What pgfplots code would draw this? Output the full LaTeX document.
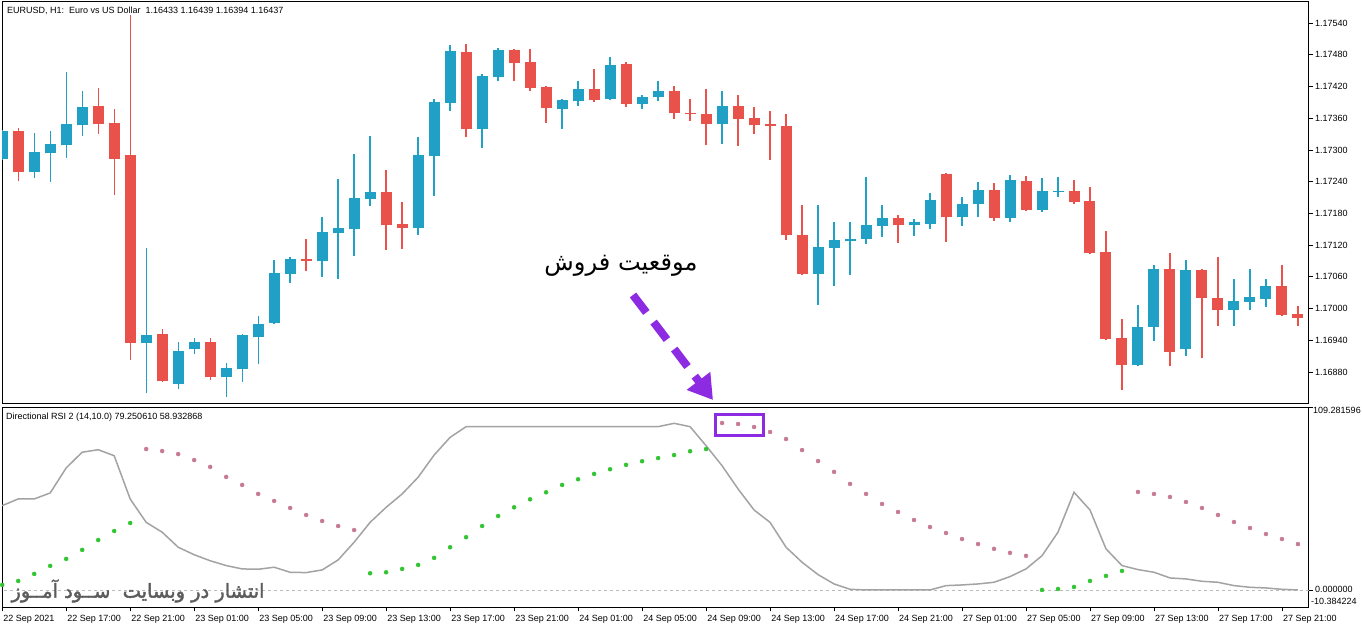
\documentclass[border=0pt]{standalone}
\usepackage{pgfplots}
\pgfplotsset{compat=1.18}
\usepackage{pgfplotstable}
\usepackage{graphicx}
\usepackage{fontspec}
\setmainfont{Liberation Sans}
\newfontfamily\arabicfont[Script=Arabic]{DejaVu Sans}
\newfontfamily\arabicbold[Script=Arabic,FakeBold=2]{DejaVu Sans}
\TeXXeTstate=1
\usetikzlibrary{arrows.meta}

\definecolor{bull}{RGB}{32,160,196}
\definecolor{bear}{RGB}{232,82,74}
\definecolor{rsiline}{RGB}{163,163,163}
\definecolor{selldot}{RGB}{198,120,150}
\definecolor{buydot}{RGB}{48,196,48}
\definecolor{hilite}{RGB}{141,43,226}
\newcommand\mt{\fontsize{9bp}{10.8bp}\selectfont}

% candles drawn as error bars only, no marks
\pgfplotsset{candle/.style 2 args={forget plot, only marks, mark=*, mark size=0pt,
    mark options={draw=none, fill=none},
    error bars/.cd, y dir=plus, y explicit, error mark=none,
    error bar style={draw=#1, line width=#2}}}

% EURUSD H1 candles: bar index, open, high, low, close
\pgfplotstableread{
i o h l c
0 1.17283 1.17338 1.17281 1.17336
2 1.17258 1.17332 1.17247 1.17296
3 1.17294 1.17336 1.17239 1.17311
4 1.17309 1.17447 1.17285 1.17349
5 1.17347 1.17411 1.17326 1.17381
9 1.16935 1.17114 1.16840 1.16950
11 1.16857 1.16937 1.16848 1.16920
12 1.16923 1.16944 1.16914 1.16937
14 1.16871 1.16897 1.16833 1.16888
15 1.16886 1.16952 1.16861 1.16950
16 1.16946 1.16986 1.16895 1.16971
17 1.16973 1.17092 1.16971 1.17067
18 1.17065 1.17097 1.17048 1.17094
20 1.17090 1.17173 1.17060 1.17145
21 1.17143 1.17245 1.17056 1.17152
22 1.17150 1.17292 1.17099 1.17209
23 1.17207 1.17326 1.17194 1.17220
26 1.17152 1.17324 1.17139 1.17290
27 1.17288 1.17396 1.17213 1.17391
28 1.17389 1.17498 1.17374 1.17487
30 1.17340 1.17444 1.17304 1.17440
31 1.17438 1.17493 1.17430 1.17489
35 1.17377 1.17396 1.17340 1.17394
36 1.17392 1.17430 1.17383 1.17415
38 1.17396 1.17476 1.17394 1.17461
40 1.17387 1.17404 1.17377 1.17400
41 1.17400 1.17430 1.17392 1.17411
45 1.17349 1.17411 1.17311 1.17383
51 1.17065 1.17196 1.17007 1.17116
52 1.17114 1.17164 1.17043 1.17130
53 1.17128 1.17164 1.17063 1.17132
54 1.17132 1.17249 1.17122 1.17158
55 1.17156 1.17196 1.17135 1.17171
57 1.17158 1.17169 1.17137 1.17164
58 1.17160 1.17219 1.17150 1.17205
60 1.17173 1.17211 1.17156 1.17198
61 1.17198 1.17239 1.17173 1.17224
63 1.17171 1.17253 1.17164 1.17243
65 1.17186 1.17247 1.17183 1.17222
66 1.17220 1.17249 1.17211 1.17222
71 1.16893 1.17007 1.16891 1.16965
72 1.16965 1.17082 1.16939 1.17075
74 1.16923 1.17092 1.16910 1.17073
77 1.16997 1.17056 1.16967 1.17014
78 1.17012 1.17075 1.16997 1.17022
79 1.17018 1.17056 1.17003 1.17043
}\bulltab

\pgfplotstableread{
i o h l c
1 1.17336 1.17341 1.17241 1.17258
6 1.17383 1.17417 1.17330 1.17349
7 1.17351 1.17377 1.17215 1.17283
8 1.17290 1.17555 1.16903 1.16935
10 1.16952 1.16961 1.16861 1.16863
13 1.16937 1.16944 1.16865 1.16871
19 1.17094 1.17132 1.17071 1.17090
24 1.17220 1.17262 1.17111 1.17158
25 1.17160 1.17201 1.17113 1.17152
29 1.17485 1.17500 1.17324 1.17340
32 1.17489 1.17491 1.17430 1.17464
33 1.17466 1.17491 1.17411 1.17417
34 1.17419 1.17421 1.17351 1.17379
37 1.17415 1.17453 1.17390 1.17394
39 1.17462 1.17466 1.17381 1.17387
42 1.17411 1.17421 1.17358 1.17370
43 1.17370 1.17396 1.17355 1.17368
44 1.17368 1.17415 1.17309 1.17349
46 1.17383 1.17404 1.17307 1.17358
47 1.17360 1.17381 1.17330 1.17347
48 1.17349 1.17374 1.17281 1.17345
49 1.17345 1.17368 1.17130 1.17139
50 1.17139 1.17196 1.17063 1.17065
56 1.17171 1.17177 1.17124 1.17158
59 1.17254 1.17256 1.17126 1.17173
62 1.17224 1.17237 1.17166 1.17171
64 1.17241 1.17251 1.17184 1.17186
67 1.17222 1.17243 1.17198 1.17201
68 1.17203 1.17230 1.17103 1.17105
69 1.17107 1.17147 1.16940 1.16942
70 1.16944 1.16980 1.16846 1.16893
73 1.17075 1.17105 1.16891 1.16918
75 1.17073 1.17075 1.16906 1.17020
76 1.17020 1.17097 1.16967 1.16997
80 1.17043 1.17082 1.16986 1.16988
81 1.16990 1.17005 1.16967 1.16982
}\beartab

% Directional RSI line
\pgfplotstableread{
i v
0 50.5
1 54.5
2 54.5
3 58.1
4 73.1
5 82.5
6 84.0
7 80.4
8 54.5
9 40.5
10 34.6
11 25.6
12 21.1
13 17.5
14 14.6
15 12.6
16 12.4
17 13.6
18 10.6
19 10.4
20 12.0
21 18.0
22 28.6
23 40.5
24 49.5
25 57.5
26 67.5
27 80.8
28 91.4
29 97.8
30 97.8
31 97.8
32 97.8
33 97.8
34 97.8
35 97.8
36 97.8
37 97.8
38 97.8
39 97.8
40 97.8
41 97.8
42 99.8
43 97.8
44 86.4
45 74.4
46 60.5
47 47.9
48 40.5
49 25.6
50 16.6
51 9.2
52 3.6
53 0.4
54 0
55 0
56 0
57 0
58 0
59 2.6
60 3.0
61 3.6
62 4.6
63 8.0
64 12.6
65 20.5
66 34.6
67 58.5
68 47.9
69 24.6
70 14.6
71 12.2
72 10.6
73 7.2
74 6.6
75 5.2
76 4.6
77 2.6
78 1.6
79 1.2
80 0.4
81 0
}\rsitab

% buy dots
\pgfplotstableread{
i v
0 3.0
1 5.4
2 9.6
3 14.4
4 18.6
5 24.0
6 29.9
7 35.3
8 40.1
23 10.0
24 10.6
25 12.6
26 15.0
27 19.2
28 25.6
29 31.6
30 38.3
31 44.3
32 49.5
33 54.3
34 58.5
35 62.9
36 66.3
37 69.5
38 72.3
39 74.9
40 77.1
41 79.0
42 80.8
43 83.1
44 84.4
65 0
66 0.6
67 1.8
68 5.4
69 8.4
70 11.4
}\buytab

% sell dots
\pgfplotstableread{
i v
9 84.4
10 83.2
11 81.4
12 77.8
13 73.7
14 67.7
15 62.9
16 57.5
17 53.3
18 49.1
19 44.9
20 41.3
21 38.3
22 35.9
45 100.0
46 99.4
47 97.6
48 94.6
49 90.4
50 83.8
51 77.2
52 70.7
53 63.5
54 57.5
55 51.5
56 46.7
57 41.9
58 37.7
59 34.1
60 30.5
61 27.5
62 24.6
63 22.2
64 20.4
71 58.7
72 57.5
73 55.7
74 52.7
75 49.1
76 44.9
77 40.7
78 37.1
79 33.5
80 30.5
81 27.5
}\selltab

\begin{document}
\begin{tikzpicture}
\path[use as bounding box, fill=white] (0,0) rectangle (1362bp,628bp);

% price window
\begin{axis}[
    at={(2bp,224bp)}, anchor=south west,
    scale only axis, width=1307bp, height=402bp,
    xmin=-0.0125, xmax=81.69,
    ymin=1.168195, ymax=1.175797,
    axis line style={black, line width=1bp},
    xtick=\empty,
    ytick={1.16880,1.16940,1.17000,1.17060,1.17120,1.17180,1.17240,1.17300,1.17360,1.17420,1.17480,1.17540},
    yticklabels={1.16880,1.16940,1.17000,1.17060,1.17120,1.17180,1.17240,1.17300,1.17360,1.17420,1.17480,1.17540},
    ytick pos=right, yticklabel pos=right,
    tick align=outside, major tick length=4bp,
    tick style={black, line width=0.8bp},
    yticklabel style={font=\mt, anchor=west, inner sep=0pt, xshift=2bp},
]
% wicks
\addplot[candle={bull}{1.3bp}]
    table[x=i, y=l, y error plus expr=\thisrow{h}-\thisrow{l}] {\bulltab};
\addplot[candle={bear}{1.3bp}]
    table[x=i, y=l, y error plus expr=\thisrow{h}-\thisrow{l}] {\beartab};
% bodies
\addplot[candle={bull}{11bp}]
    table[x=i, y=o, y error plus expr=\thisrow{c}-\thisrow{o}] {\bulltab};
\addplot[candle={bear}{11bp}]
    table[x=i, y=c, y error plus expr=\thisrow{o}-\thisrow{c}] {\beartab};
\end{axis}

% indicator window
\begin{axis}[
    at={(2bp,20.7bp)}, anchor=south west,
    scale only axis, width=1307bp, height=199.8bp,
    xmin=-0.0125, xmax=81.69,
    ymin=-10.384224, ymax=109.281596,
    axis line style={black, line width=1bp},
    xtick={0,4,...,80},
    xticklabels={22 Sep 2021,22 Sep 17:00,22 Sep 21:00,23 Sep 01:00,23 Sep 05:00,23 Sep 09:00,23 Sep 13:00,23 Sep 17:00,23 Sep 21:00,24 Sep 01:00,24 Sep 05:00,24 Sep 09:00,24 Sep 13:00,24 Sep 17:00,24 Sep 21:00,27 Sep 01:00,27 Sep 05:00,27 Sep 09:00,27 Sep 13:00,27 Sep 17:00,27 Sep 21:00},
    xtick pos=bottom,
    ytick={0,109.281596}, yticklabels={,},
    ytick pos=right,
    tick align=outside, major tick length=4bp,
    tick style={black, line width=0.8bp},
    xticklabel style={font=\mt, anchor=north west, inner sep=0pt, xshift=1bp, yshift=-4bp},
]
\addplot[rsiline!75, line width=0.8bp, dash pattern=on 3bp off 3bp, forget plot]
    coordinates {(-1,0) (83,0)};
\addplot[rsiline, line width=1.5bp, forget plot] table[x=i, y=v] {\rsitab};
\addplot[only marks, mark=*, mark size=2bp, color=buydot, forget plot] table[x=i, y=v] {\buytab};
\addplot[only marks, mark=*, mark size=2bp, color=selldot, forget plot] table[x=i, y=v] {\selltab};
\end{axis}

% window captions and scale labels
\node[font=\mt, anchor=base west, inner sep=0pt] at (7bp,614.5bp)
    {EURUSD, H1:\ \ Euro vs US Dollar\ \ 1.16433 1.16439 1.16394 1.16437};
\node[font=\mt, anchor=base west, inner sep=0pt] at (6bp,208.5bp)
    {Directional RSI 2 (14,10.0) 79.250610 58.932868};
\node[font=\mt, anchor=west, inner sep=0pt] at (1313bp,217.5bp) {109.281596};
\node[font=\mt, anchor=west, inner sep=0pt] at (1315bp,39bp) {0.000000};
\node[font=\mt, anchor=west, inner sep=0pt] at (1311bp,27bp) {-10.384224};

% annotation
\node[inner sep=0pt] at (621bp,362bp)
    {\resizebox{153bp}{!}{\arabicfont\beginR موقعیت فروش\endR}};
\draw[hilite, line width=8bp, dash pattern=on 22bp off 12bp,
    -{Triangle[length=24bp,width=28bp]}] (633bp,333bp) -- (713bp,228bp);
\draw[hilite, line width=3bp] (715bp,213bp) rectangle (763bp,192bp);

% watermark
\node[inner sep=0pt, text=black!64] at (138bp,37bp)
    {\resizebox{253bp}{!}{\arabicbold\beginR انتشار در وبسایت\ \ ســود آمــوز\endR}};
\end{tikzpicture}
\end{document}
